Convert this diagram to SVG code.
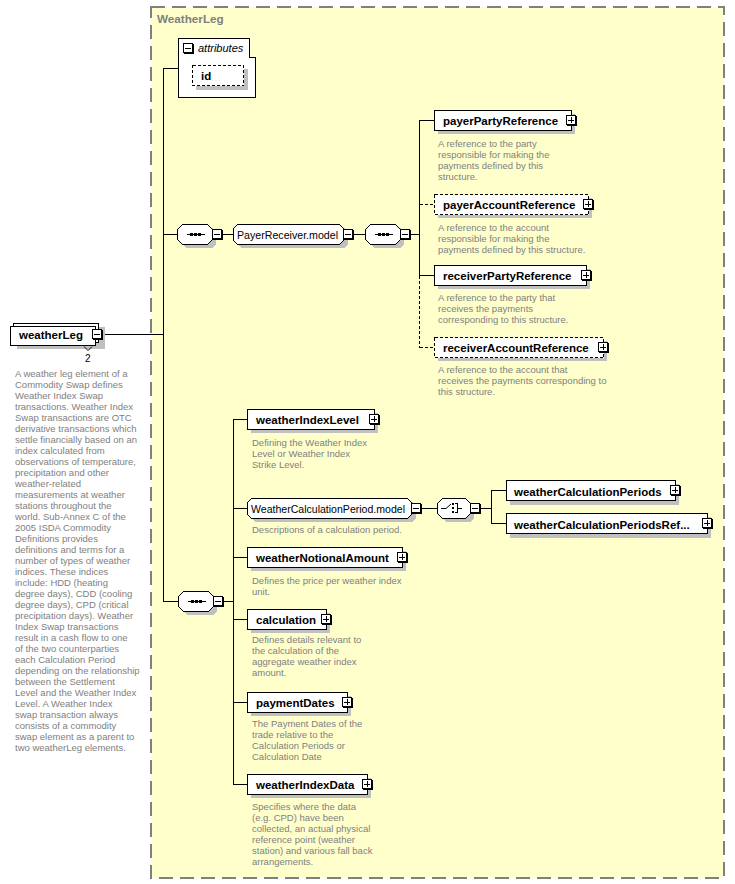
<svg xmlns="http://www.w3.org/2000/svg" xmlns:xlink="http://www.w3.org/1999/xlink" width="735" height="884" viewBox="0 0 735 884">
<style>
.name{font-family:"Liberation Sans",Arial,sans-serif;font-weight:bold;font-size:11.5px;fill:#000}
.grp{font-family:"Liberation Sans",Arial,sans-serif;font-size:10.8px;fill:#000}
.desc{font-family:"Liberation Sans",Arial,sans-serif;font-size:9.5px;fill:#808080}
.box{fill:#fff;stroke:#000;stroke-width:1}
.opt{fill:#fff;stroke:#000;stroke-width:1;stroke-dasharray:3,2}
.shd{fill:#c0c0c0}
.ln{stroke:#000;stroke-width:1;fill:none}
.dl{stroke:#000;stroke-width:1;fill:none;stroke-dasharray:3,2}
</style>
<defs>
<g id="plus" shape-rendering="crispEdges">
<rect x="0.5" y="0.5" width="9" height="9" fill="#fff" stroke="#000"/>
<path d="M10.5,1V10.5H1" fill="none" stroke="#000"/>
<path d="M2,5H8M5,2V8" stroke="#000" fill="none"/>
</g>
<g id="minus" shape-rendering="crispEdges">
<rect x="0.5" y="0.5" width="9" height="9" fill="#fff" stroke="#000"/>
<path d="M10.5,1V10.5H1" fill="none" stroke="#000"/>
<path d="M2,5H8" stroke="#000" fill="none"/>
</g>
<g id="seqsym" shape-rendering="crispEdges">
<path d="M10,10.5H28" stroke="#000"/>
<rect x="13" y="9" width="3" height="3" fill="#000"/>
<rect x="17" y="9" width="3" height="3" fill="#000"/>
<rect x="21" y="9" width="3" height="3" fill="#000"/>
</g>
</defs>

<rect x="151" y="7" width="573" height="871" fill="#ffffcc" stroke="#808080" stroke-width="2" stroke-dasharray="14,7"/>
<text x="157" y="23" font-family="Liberation Sans,Arial,sans-serif" font-weight="bold" font-size="11.7px" fill="#808080">WeatherLeg</text>

<g id="connectors" shape-rendering="crispEdges">
<path class="ln" d="M163.5,68V601.5M163.5,68.5H178M103,334.5H163.5M163.5,234.5H177M222,234.5H233M353,234.5H365M410,234.5H419.5M419.5,120V275.5M419.5,120.5H434M419.5,275.5H434"/>
<path class="dl" d="M419.5,275.5V347.5M419.5,204.5H434M419.5,347.5H434"/>
<path class="ln" d="M163.5,601.5H178M223,601.5H233.5M233.5,419V784.5M233.5,419.5H247M233.5,508.5H247M233.5,557.5H247M233.5,619.5H247M233.5,702.5H247M233.5,784.5H247M421,508.5H437M480,508.5H491.5M491.5,490V523.5M491.5,490.5H506M491.5,523.5H506"/>
</g>

<g id="weatherLeg" shape-rendering="crispEdges">
<rect class="shd" x="17" y="327" width="88" height="22"/>
<rect class="box" x="13.5" y="323.5" width="85" height="19"/>
<rect class="box" x="10.5" y="326.5" width="85" height="19"/>
<path d="M84,346.5L88,350.5L92,346.5" fill="none" stroke="#000" shape-rendering="auto"/>
<use xlink:href="#minus" x="92" y="329"/>
<text class="name" x="19" y="339" shape-rendering="auto">weatherLeg</text>
<text x="85" y="362" font-family="Liberation Sans,Arial,sans-serif" font-size="10px" fill="#000">2</text>
<text class="desc" x="15">
<tspan x="15" y="377">A weather leg element of a</tspan>
<tspan x="15" y="388">Commodity Swap defines</tspan>
<tspan x="15" y="399">Weather Index Swap</tspan>
<tspan x="15" y="410">transactions. Weather Index</tspan>
<tspan x="15" y="421">Swap transactions are OTC</tspan>
<tspan x="15" y="432">derivative transactions which</tspan>
<tspan x="15" y="443">settle financially based on an</tspan>
<tspan x="15" y="454">index calculated from</tspan>
<tspan x="15" y="465">observations of temperature,</tspan>
<tspan x="15" y="476">precipitation and other</tspan>
<tspan x="15" y="487">weather-related</tspan>
<tspan x="15" y="498">measurements at weather</tspan>
<tspan x="15" y="509">stations throughout the</tspan>
<tspan x="15" y="520">world. Sub-Annex C of the</tspan>
<tspan x="15" y="531">2005 ISDA Commodity</tspan>
<tspan x="15" y="542">Definitions provides</tspan>
<tspan x="15" y="553">definitions and terms for a</tspan>
<tspan x="15" y="564">number of types of weather</tspan>
<tspan x="15" y="575">indices. These indices</tspan>
<tspan x="15" y="586">include: HDD (heating</tspan>
<tspan x="15" y="597">degree days), CDD (cooling</tspan>
<tspan x="15" y="608">degree days), CPD (critical</tspan>
<tspan x="15" y="619">precipitation days). Weather</tspan>
<tspan x="15" y="630">Index Swap transactions</tspan>
<tspan x="15" y="641">result in a cash flow to one</tspan>
<tspan x="15" y="652">of the two counterparties</tspan>
<tspan x="15" y="663">each Calculation Period</tspan>
<tspan x="15" y="674">depending on the relationship</tspan>
<tspan x="15" y="685">between the Settlement</tspan>
<tspan x="15" y="696">Level and the Weather Index</tspan>
<tspan x="15" y="707">Level. A Weather Index</tspan>
<tspan x="15" y="718">swap transaction always</tspan>
<tspan x="15" y="729">consists of a commodity</tspan>
<tspan x="15" y="740">swap element as a parent to</tspan>
<tspan x="15" y="751">two weatherLeg elements.</tspan>
</text>
</g>

<g id="attributes">
<path d="M178.5,38.5H249.5V57.5H255.5V97.5H178.5Z" fill="#fff" stroke="#000" shape-rendering="crispEdges"/>
<use xlink:href="#minus" x="183" y="43"/>
<text x="198" y="52" font-family="Liberation Sans,Arial,sans-serif" font-style="italic" font-size="11px" fill="#000">attributes</text>
<g id="id">
<rect class="shd" x="196" y="69" width="52" height="21" shape-rendering="crispEdges"/>
<rect class="opt" x="192.5" y="65.5" width="51" height="20" shape-rendering="crispEdges"/>
<text class="name" x="201" y="80">id</text>
</g>
</g>

<g id="seq1" shape-rendering="crispEdges">
<path class="shd" d="M186,228H212L216,232V244L212,248H186L181,243V233Z"/>
<path d="M182.5,224.5H207.5L212.5,229.5V239.5L207.5,244.5H182.5L177.5,239.5V229.5Z" fill="#fff" stroke="#000"/>
<use xlink:href="#seqsym" x="177" y="224"/>
<use xlink:href="#minus" x="212" y="229"/>
</g>

<g id="PayerReceiver.model" shape-rendering="crispEdges">
<path class="shd" d="M241,228H344L348,232V244L344,248H241L237,244V232Z"/>
<path d="M237.5,224.5H339.5L343.5,228.5V240.5L339.5,244.5H237.5L233.5,240.5V228.5Z" fill="#fff" stroke="#000"/>
<text class="grp" x="237" y="238.5" textLength="101" lengthAdjust="spacingAndGlyphs">PayerReceiver.model</text>
<use xlink:href="#minus" x="343" y="229"/>
</g>

<g id="seq2" shape-rendering="crispEdges">
<path class="shd" d="M374,228H400L404,232V244L400,248H374L369,243V233Z"/>
<path d="M370.5,224.5H395.5L400.5,229.5V239.5L395.5,244.5H370.5L365.5,239.5V229.5Z" fill="#fff" stroke="#000"/>
<use xlink:href="#seqsym" x="365" y="224"/>
<use xlink:href="#minus" x="400" y="229"/>
</g>

<g id="payerPartyReference">
<rect class="shd" x="438" y="114" width="137" height="20"/>
<rect class="box" x="434.5" y="110.5" width="137" height="20" shape-rendering="crispEdges"/>
<text class="name" x="443" y="125">payerPartyReference</text>
<use xlink:href="#plus" x="566" y="115"/>
<text class="desc"><tspan x="438" y="147">A reference to the party</tspan><tspan x="438" y="158">responsible for making the</tspan><tspan x="438" y="169">payments defined by this</tspan><tspan x="438" y="180">structure.</tspan></text>
</g>

<g id="payerAccountReference">
<rect class="shd" x="438" y="198" width="154" height="20"/>
<rect class="opt" x="434.5" y="194.5" width="154" height="20" shape-rendering="crispEdges"/>
<text class="name" x="443" y="209">payerAccountReference</text>
<use xlink:href="#plus" x="583" y="199"/>
<text class="desc"><tspan x="438" y="231">A reference to the account</tspan><tspan x="438" y="242">responsible for making the</tspan><tspan x="438" y="253">payments defined by this structure.</tspan></text>
</g>

<g id="receiverPartyReference">
<rect class="shd" x="438" y="269" width="152" height="20"/>
<rect class="box" x="434.5" y="265.5" width="152" height="20" shape-rendering="crispEdges"/>
<text class="name" x="443" y="280">receiverPartyReference</text>
<use xlink:href="#plus" x="581" y="270"/>
<text class="desc"><tspan x="438" y="301">A reference to the party that</tspan><tspan x="438" y="312">receives the payments</tspan><tspan x="438" y="323">corresponding to this structure.</tspan></text>
</g>

<g id="receiverAccountReference">
<rect class="shd" x="438" y="341" width="169" height="20"/>
<rect class="opt" x="434.5" y="337.5" width="169" height="20" shape-rendering="crispEdges"/>
<text class="name" x="443" y="352">receiverAccountReference</text>
<use xlink:href="#plus" x="598" y="342"/>
<text class="desc"><tspan x="438" y="373">A reference to the account that</tspan><tspan x="438" y="384">receives the payments corresponding to</tspan><tspan x="438" y="395">this structure.</tspan></text>
</g>

<g id="seq3" shape-rendering="crispEdges">
<path class="shd" d="M187,595H213L217,599V611L213,615H187L182,610V600Z"/>
<path d="M183.5,591.5H208.5L213.5,596.5V606.5L208.5,611.5H183.5L178.5,606.5V596.5Z" fill="#fff" stroke="#000"/>
<use xlink:href="#seqsym" x="178" y="591"/>
<use xlink:href="#minus" x="213" y="596"/>
</g>

<g id="weatherIndexLevel">
<rect class="shd" x="251" y="413" width="127" height="20"/>
<rect class="box" x="247.5" y="409.5" width="127" height="20" shape-rendering="crispEdges"/>
<text class="name" x="256" y="424">weatherIndexLevel</text>
<use xlink:href="#plus" x="369" y="414"/>
<text class="desc"><tspan x="252" y="446">Defining the Weather Index</tspan><tspan x="252" y="457">Level or Weather Index</tspan><tspan x="252" y="468">Strike Level.</tspan></text>
</g>

<g id="WeatherCalculationPeriod.model">
<path class="shd" d="M255,502H412L416,506V518L412,522H255L251,518V506Z" shape-rendering="crispEdges"/>
<path d="M251.5,498.5H407.5L411.5,502.5V514.5L407.5,518.5H251.5L247.5,514.5V502.5Z" fill="#fff" stroke="#000" shape-rendering="crispEdges"/>
<text class="grp" x="251" y="512.5" textLength="154" lengthAdjust="spacingAndGlyphs">WeatherCalculationPeriod.model</text>
<use xlink:href="#minus" x="411" y="503"/>
<text class="desc" x="252" y="533">Descriptions of a calculation period.</text>
</g>

<g id="choice" shape-rendering="crispEdges">
<path class="shd" d="M446,502H470L474,506V518L470,522H446L441,517V507Z"/>
<path d="M442.5,498.5H465.5L470.5,503.5V513.5L465.5,518.5H442.5L437.5,513.5V503.5Z" fill="#fff" stroke="#000"/>
<path d="M441,508.5H446L451,504" fill="none" stroke="#000" shape-rendering="auto"/>
<rect x="452" y="503" width="2" height="2" fill="#000"/>
<rect x="452" y="507" width="2" height="2" fill="#000"/>
<rect x="452" y="511" width="2" height="2" fill="#000"/>
<path d="M455,503.5H457.5V512.5H455M457.5,508.5H462" fill="none" stroke="#000"/>
<use xlink:href="#minus" x="470" y="503"/>
</g>

<g id="weatherCalculationPeriods">
<rect class="shd" x="510" y="484" width="169" height="21"/>
<rect class="box" x="506.5" y="480.5" width="169" height="20" shape-rendering="crispEdges"/>
<text class="name" x="514" y="495.5">weatherCalculationPeriods</text>
<use xlink:href="#plus" x="670" y="485"/>
</g>

<g id="weatherCalculationPeriodsReference">
<rect class="shd" x="510" y="517" width="201" height="21"/>
<rect class="box" x="506.5" y="513.5" width="201" height="20" shape-rendering="crispEdges"/>
<text class="name" x="514" y="528.5">weatherCalculationPeriodsRef...</text>
<use xlink:href="#plus" x="702" y="518"/>
</g>

<g id="weatherNotionalAmount">
<rect class="shd" x="251" y="551" width="155" height="20"/>
<rect class="box" x="247.5" y="547.5" width="155" height="20" shape-rendering="crispEdges"/>
<text class="name" x="256" y="562">weatherNotionalAmount</text>
<use xlink:href="#plus" x="397" y="552"/>
<text class="desc"><tspan x="252" y="584">Defines the price per weather index</tspan><tspan x="252" y="595">unit.</tspan></text>
</g>

<g id="calculation">
<rect class="shd" x="251" y="613" width="79" height="20"/>
<rect class="box" x="247.5" y="609.5" width="79" height="20" shape-rendering="crispEdges"/>
<text class="name" x="256" y="624">calculation</text>
<use xlink:href="#plus" x="321" y="614"/>
<text class="desc"><tspan x="252" y="643">Defines details relevant to</tspan><tspan x="252" y="654">the calculation of the</tspan><tspan x="252" y="665">aggregate weather index</tspan><tspan x="252" y="676">amount.</tspan></text>
</g>

<g id="paymentDates">
<rect class="shd" x="251" y="696" width="100" height="20"/>
<rect class="box" x="247.5" y="692.5" width="100" height="20" shape-rendering="crispEdges"/>
<text class="name" x="256" y="707">paymentDates</text>
<use xlink:href="#plus" x="342" y="697"/>
<text class="desc"><tspan x="252" y="727">The Payment Dates of the</tspan><tspan x="252" y="738">trade relative to the</tspan><tspan x="252" y="749">Calculation Periods or</tspan><tspan x="252" y="760">Calculation Date</tspan></text>
</g>

<g id="weatherIndexData">
<rect class="shd" x="251" y="778" width="120" height="20"/>
<rect class="box" x="247.5" y="774.5" width="120" height="20" shape-rendering="crispEdges"/>
<text class="name" x="256" y="789">weatherIndexData</text>
<use xlink:href="#plus" x="362" y="779"/>
<text class="desc"><tspan x="252" y="810">Specifies where the data</tspan><tspan x="252" y="821">(e.g. CPD) have been</tspan><tspan x="252" y="832">collected, an actual physical</tspan><tspan x="252" y="843">reference point (weather</tspan><tspan x="252" y="854">station) and various fall back</tspan><tspan x="252" y="865">arrangements.</tspan></text>
</g>
</svg>
